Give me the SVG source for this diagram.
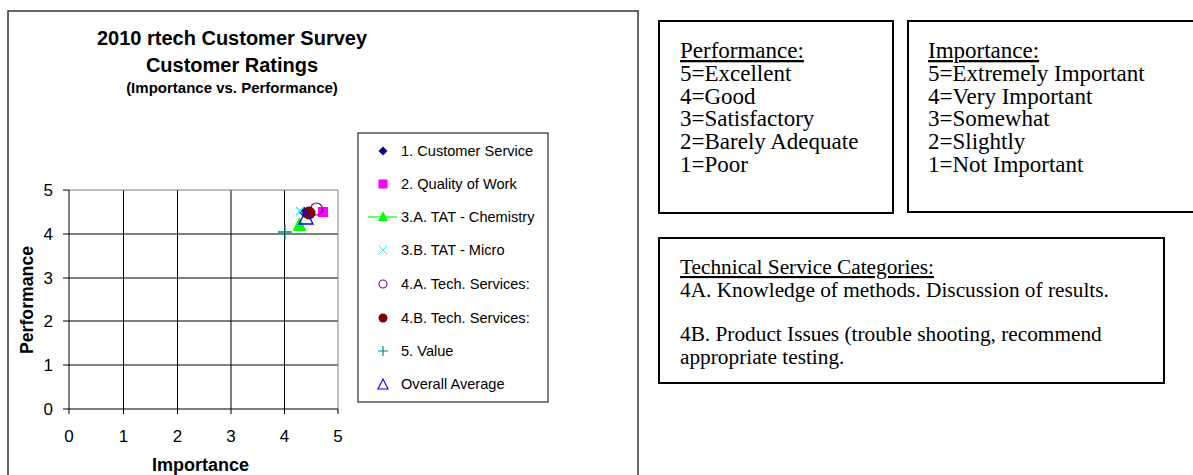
<svg xmlns="http://www.w3.org/2000/svg" width="1193" height="475" viewBox="0 0 1193 475">
<style>
.frame{fill:#fff;stroke:#333;stroke-width:1.5}
.grid{stroke:#000;stroke-width:1;fill:none}
.pborder{stroke:#808080;stroke-width:1;fill:none}
.tick{font-family:"Liberation Sans",Arial,sans-serif;font-size:17px;fill:#000}
.ttl{font-family:"Liberation Sans",Arial,sans-serif;font-weight:bold;fill:#000;text-anchor:middle}
.leg{font-family:"Liberation Sans",Arial,sans-serif;font-size:14.6px;fill:#000;white-space:pre}
.box{fill:#fff;stroke:#000;stroke-width:2}
.tnr{font-family:"Liberation Serif","Times New Roman",serif;font-size:23px;fill:#000}
.tnr2{font-family:"Liberation Serif","Times New Roman",serif;font-size:21.3px;fill:#000}
</style>
<rect width="1193" height="475" fill="#fff"/>
<g id="chart">
<rect class="frame" x="8" y="11" width="630" height="480"/>
<g id="title">
<text class="ttl" x="232" y="45" font-size="20">2010 rtech Customer Survey</text>
<text class="ttl" x="232" y="72" font-size="20">Customer Ratings</text>
<text class="ttl" x="232" y="92.5" font-size="15">(Importance vs. Performance)</text>
</g>
<g id="plot">
<path class="grid" d="M69,234H338M69,278H338M69,321H338M69,365H338M123.5,190V409M177.5,190V409M231,190V409M284.5,190V409"/>
<path class="pborder" d="M69,190H338V409"/>
<path class="grid" d="M69,190V409H338"/>
<path class="grid" d="M63,190H69M63,234H69M63,278H69M63,321H69M63,365H69M63,409H69M69,409V414M123.5,409V414M177.5,409V414M231,409V414M284.5,409V414M338,409V414"/>
<g class="tick" text-anchor="end">
<text x="53" y="196">5</text><text x="53" y="240">4</text><text x="53" y="284">3</text><text x="53" y="327">2</text><text x="53" y="371">1</text><text x="53" y="415">0</text>
</g>
<g class="tick" text-anchor="middle">
<text x="69" y="442">0</text><text x="123.5" y="442">1</text><text x="177.5" y="442">2</text><text x="231" y="442">3</text><text x="284.5" y="442">4</text><text x="338" y="442">5</text>
</g>
<text class="ttl" x="200.5" y="471" font-size="18">Importance</text>
<text class="ttl" font-size="17.7" transform="translate(33,300) rotate(-90)">Performance</text>
</g>
<g id="points">
<polygon points="304,206.5 309.5,212 304,217.5 298.5,212" fill="#000080"/>
<rect x="318" y="207" width="10" height="10" fill="#ff00ff"/>
<polygon points="299.5,217 306.5,231 292.5,231" fill="#00ff00"/>
<path d="M296,207L304,215M304,207L296,215" stroke="#00ffff" stroke-width="1.2"/>
<circle cx="316.5" cy="209" r="6" fill="none" stroke="#800080" stroke-width="1.2"/>
<circle cx="309" cy="213" r="6.5" fill="#800000"/>
<path d="M278,232H292M285,225V239" stroke="#008080" stroke-width="1.3"/>
<polygon points="306,210.5 313,224 299,224" fill="none" stroke="#0000ff" stroke-width="1.3"/>
</g>
<g id="legend">
<rect x="358" y="133" width="190" height="269" fill="#fff" stroke="#000" stroke-width="1"/>
<polygon points="383,146.5 387.5,151 383,155.5 378.5,151" fill="#000080"/>
<rect x="378.5" y="179.5" width="9" height="9" fill="#ff00ff"/>
<path d="M368,217H397" stroke="#00ff00" stroke-width="1.2"/>
<polygon points="383,211 388,221 378,221" fill="#00ff00"/>
<path d="M378.5,245.5L387.5,254.5M387.5,245.5L378.5,254.5" stroke="#00ffff" stroke-width="1"/>
<circle cx="383" cy="284" r="4" fill="none" stroke="#800080" stroke-width="1.1"/>
<circle cx="383" cy="318" r="4.5" fill="#800000"/>
<path d="M378,351H388M383,346V356" stroke="#008080" stroke-width="1.1"/>
<polygon points="383,379 388,389 378,389" fill="none" stroke="#0000ff" stroke-width="1.1"/>
<g class="leg">
<text x="401" y="156">1. Customer Service</text>
<text x="401" y="189">2.  Quality of Work</text>
<text x="401" y="222">3.A. TAT - Chemistry</text>
<text x="401" y="255">3.B. TAT - Micro</text>
<text x="401" y="289">4.A. Tech. Services:</text>
<text x="401" y="323">4.B. Tech. Services:</text>
<text x="401" y="356">5. Value</text>
<text x="401" y="389">Overall Average</text>
</g>
</g>
</g>
<g id="performance-box">
<rect class="box" x="659" y="21" width="234" height="192"/>
<g class="tnr">
<text x="680" y="58" text-decoration="underline">Performance:</text>
<text x="680" y="81">5=Excellent</text>
<text x="680" y="103.7">4=Good</text>
<text x="680" y="126.4">3=Satisfactory</text>
<text x="680" y="149.1">2=Barely Adequate</text>
<text x="680" y="171.8">1=Poor</text>
</g>
</g>
<g id="importance-box">
<rect class="box" x="908" y="21" width="300" height="191"/>
<g class="tnr">
<text x="928" y="58" text-decoration="underline">Importance:</text>
<text x="928" y="81">5=Extremely Important</text>
<text x="928" y="103.7">4=Very Important</text>
<text x="928" y="126.4">3=Somewhat</text>
<text x="928" y="149.1">2=Slightly</text>
<text x="928" y="171.8">1=Not Important</text>
</g>
</g>
<g id="tech-box">
<rect class="box" x="659" y="238" width="505" height="145"/>
<g class="tnr2">
<text x="680" y="274" text-decoration="underline">Technical Service Categories:</text>
<text x="680" y="296.5">4A. Knowledge of methods. Discussion of results.</text>
<text x="680" y="341">4B. Product Issues (trouble shooting, recommend</text>
<text x="680" y="363.5">appropriate testing.</text>
</g>
</g>
<g id="connectors"/>
</svg>
